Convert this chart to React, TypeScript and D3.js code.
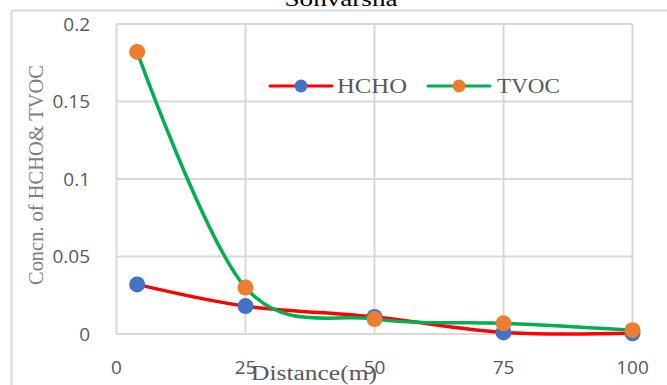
import React, { useEffect, useRef } from "react";
import * as d3 from "d3";

// Sampling distance (m) and measured concentrations
const distances = [4, 25, 50, 75, 100];
const hcho = [0.032, 0.018, 0.011, 0.001, 0.0005];
const tvoc = [0.182, 0.030, 0.0096, 0.0069, 0.0025];
const xTicks = [0, 25, 50, 75, 100];
const yTicks = [0, 0.05, 0.1, 0.15, 0.2];
const seriesNames = ["HCHO", "TVOC"];

const W = 667;
const H = 385;
const plot = { left: 116.5, right: 632.5, top: 24, bottom: 334 };

export default function App() {
  const ref = useRef<SVGSVGElement | null>(null);

  useEffect(() => {
    const svg = d3.select(ref.current);
    svg.selectAll("*").remove();

    const x = d3.scaleLinear().domain([0, 100]).range([plot.left, plot.right]);
    const y = d3.scaleLinear().domain([0, 0.2]).range([plot.bottom, plot.top]);

    const grid = "#d9d9d9";
    const textGray = "#595959";
    const serif = "'Liberation Serif', 'Times New Roman', serif";
    const sans = "'Open Sans', 'Liberation Sans', sans-serif";

    svg.append("rect").attr("width", W).attr("height", H).attr("fill", "#fff");

    // chart frame
    svg.append("line").attr("x1", 11.5).attr("x2", 11.5).attr("y1", 10).attr("y2", H)
      .attr("stroke", grid).attr("stroke-width", 2);
    svg.append("line").attr("x1", 11.5).attr("x2", W).attr("y1", 10.5).attr("y2", 10.5)
      .attr("stroke", grid).attr("stroke-width", 2);

    // title, clipped by the top of the frame
    svg.append("text").attr("x", 341).attr("y", 6).attr("text-anchor", "middle")
      .attr("font-family", serif).attr("font-size", 22).attr("fill", "#000")
      .attr("textLength", 113).attr("lengthAdjust", "spacingAndGlyphs")
      .text("Sonvarsha");

    // gridlines
    const g = svg.append("g");
    g.selectAll("line.h").data(yTicks).join("line")
      .attr("x1", plot.left).attr("x2", plot.right)
      .attr("y1", (d) => y(d)).attr("y2", (d) => y(d))
      .attr("stroke", grid).attr("stroke-width", 2);
    g.selectAll("line.v").data(xTicks).join("line")
      .attr("x1", (d) => x(d)).attr("x2", (d) => x(d))
      .attr("y1", plot.top).attr("y2", plot.bottom)
      .attr("stroke", grid).attr("stroke-width", 2);

    // tick labels
    svg.append("g").selectAll("text").data(yTicks).join("text")
      .attr("x", 90).attr("y", (d) => y(d)).attr("dy", "0.35em")
      .attr("text-anchor", "end").attr("font-family", sans).attr("font-size", 19)
      .attr("fill", textGray).text((d) => String(d));
    svg.append("g").selectAll("text").data(xTicks).join("text")
      .attr("x", (d) => x(d)).attr("y", 367).attr("dy", "0.35em")
      .attr("text-anchor", "middle").attr("font-family", sans).attr("font-size", 19)
      .attr("fill", textGray).text((d) => String(d));

    // axis titles
    svg.append("text").attr("transform", "translate(43,175) rotate(-90)")
      .attr("text-anchor", "middle").attr("font-family", serif).attr("font-size", 21)
      .attr("fill", "#7f7f7f").attr("textLength", 220).attr("lengthAdjust", "spacingAndGlyphs")
      .text("Concn. of HCHO& TVOC");
    svg.append("text").attr("x", 314).attr("y", 380).attr("text-anchor", "middle")
      .attr("font-family", serif).attr("font-size", 20).attr("fill", textGray)
      .attr("textLength", 126).attr("lengthAdjust", "spacingAndGlyphs")
      .text("Distance(m)");

    const series = [
      { name: seriesNames[0], values: hcho, line: "#ff0000", marker: "#4472c4" },
      { name: seriesNames[1], values: tvoc, line: "#00b050", marker: "#ed7d31" },
    ];

    const lineGen = d3.line<[number, number]>()
      .x((d) => x(d[0])).y((d) => y(d[1]))
      .curve(d3.curveCardinal.tension(0));

    series.forEach((s) => {
      const pts = distances.map((d, i) => [d, s.values[i]] as [number, number]);
      svg.append("path").attr("d", lineGen(pts) as string)
        .attr("fill", "none").attr("stroke", s.line).attr("stroke-width", 3.5)
        .attr("stroke-linecap", "round");
      svg.append("g").selectAll("circle").data(pts).join("circle")
        .attr("cx", (d) => x(d[0])).attr("cy", (d) => y(d[1])).attr("r", 8)
        .attr("fill", s.marker);
    });

    // legend
    const legendItems = [
      { x0: 270, x1: 332, tx: 337, tl: 70 },
      { x0: 428, x1: 490, tx: 497, tl: 63 },
    ];
    series.forEach((s, i) => {
      const li = legendItems[i];
      const lg = svg.append("g");
      lg.append("line").attr("x1", li.x0).attr("x2", li.x1).attr("y1", 86).attr("y2", 86)
        .attr("stroke", s.line).attr("stroke-width", 3).attr("stroke-linecap", "round");
      lg.append("circle").attr("cx", (li.x0 + li.x1) / 2).attr("cy", 86).attr("r", 6.5)
        .attr("fill", s.marker);
      lg.append("text").attr("x", li.tx).attr("y", 93).attr("font-family", serif)
        .attr("font-size", 21).attr("fill", textGray)
        .attr("textLength", li.tl).attr("lengthAdjust", "spacingAndGlyphs")
        .text(s.name);
    });
  }, []);

  return (
    <svg
      ref={ref}
      width={W}
      height={H}
      style={{ position: "absolute", left: 0, top: 0, display: "block" }}
    />
  );
}
